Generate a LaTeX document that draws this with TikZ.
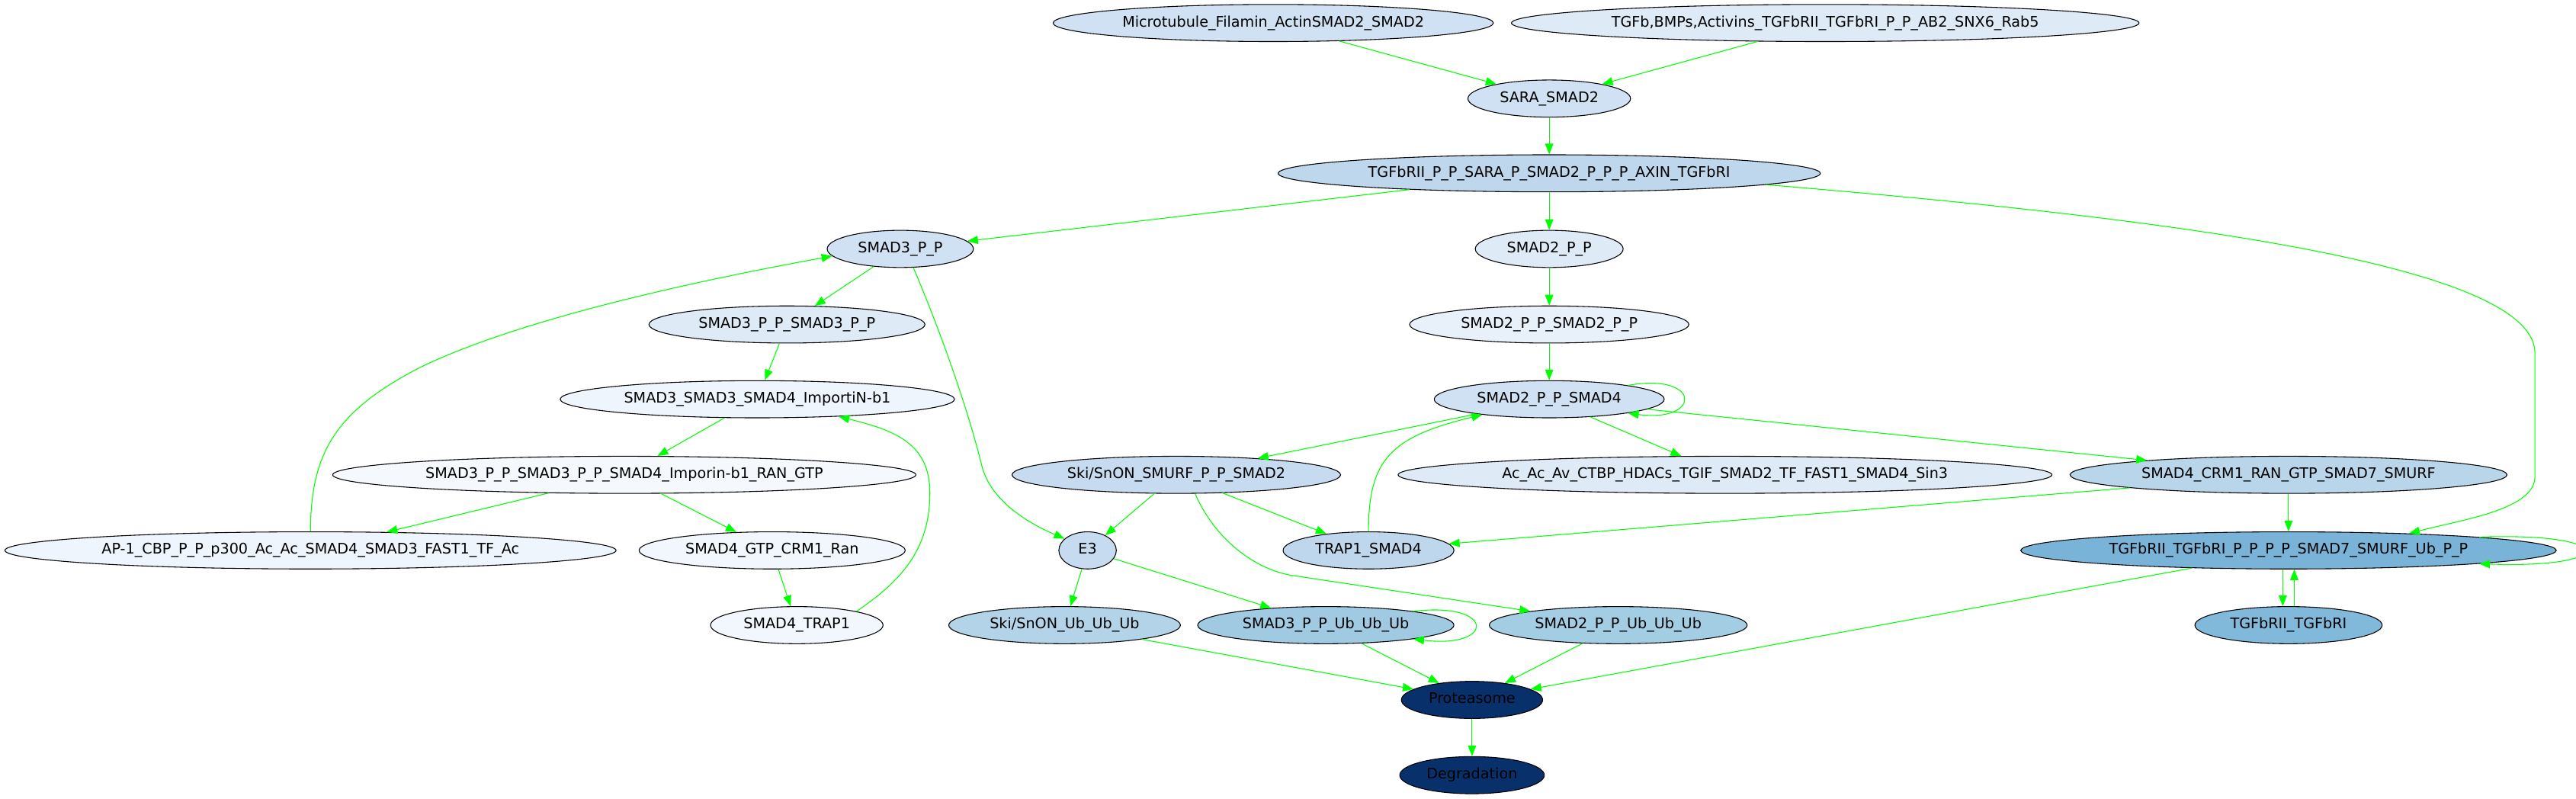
\documentclass[tikz,border=0pt]{standalone}
\usepackage{fontspec}
\setmainfont{DejaVu Sans}
\usetikzlibrary{shapes.geometric,arrows.meta}
\usetikzlibrary{positioning}

\definecolor{edgegreen}{HTML}{00FF00}
\definecolor{cWhite}{HTML}{F5F9FE}
\definecolor{cFaint}{HTML}{EEF5FC}
\definecolor{cFaintB}{HTML}{F2F7FD}
\definecolor{cLight}{HTML}{E8F1FA}
\definecolor{cPale}{HTML}{DEEBF7}
\definecolor{cMid}{HTML}{CFE1F2}
\definecolor{cSki}{HTML}{C6DBEF}
\definecolor{cRec}{HTML}{BED7EC}
\definecolor{cCrm}{HTML}{B9D5EA}
\definecolor{cSkiUb}{HTML}{B2D3E8}
\definecolor{cSTwoUb}{HTML}{A3CDE3}
\definecolor{cSThreeUb}{HTML}{9FCAE1}
\definecolor{cRecTwo}{HTML}{80B9DA}
\definecolor{cUb}{HTML}{79B4D8}
\definecolor{cDark}{HTML}{08306B}

\newcommand{\lab}[1]{\makebox[0pt]{#1}}

\tikzset{
  species/.style={ellipse, draw=black, line width=0.5pt, inner sep=0pt,
    minimum height=22.6pt, text height=6.6pt, text depth=2pt,
    font=\fontsize{8.9}{11}\selectfont},
  flow/.style={draw=edgegreen, line width=0.5pt,
    -{Triangle[length=6.5pt,width=5pt]}}
}

\begin{document}
\begin{tikzpicture}[x=1pt, y=-1pt]
  \useasboundingbox (0,0) rectangle (1568,486);
  % Row 1: inputs
  \node[species, fill=cMid, minimum width=268pt] (mic) at (775,14) {\lab{Microtubule\_Filamin\_ActinSMAD2\_SMAD2}};
  \node[species, fill=cPale, minimum width=382pt] (tgfb) at (1111,14) {\lab{TGFb,BMPs,Activins\_TGFbRII\_TGFbRI\_P\_P\_AB2\_SNX6\_Rab5}};
  % Row 2-3: receptor complex
  \node[species, fill=cMid, minimum width=99pt] (sara) at (943,60) {\lab{SARA\_SMAD2}};
  \node[species, fill=cRec, minimum width=330pt] (rec) at (943,105.5) {\lab{TGFbRII\_P\_P\_SARA\_P\_SMAD2\_P\_P\_P\_AXIN\_TGFbRI}};
  % SMAD3 branch
  \node[species, fill=cMid, minimum width=89pt] (s3pp) at (548,151.5) {\lab{SMAD3\_P\_P}};
  \node[species, fill=cPale, minimum width=168pt] (s3dim) at (479,197.5) {\lab{SMAD3\_P\_P\_SMAD3\_P\_P}};
  \node[species, fill=cFaint, minimum width=240pt] (s3imp) at (461,243) {\lab{SMAD3\_SMAD3\_SMAD4\_ImportiN-b1}};
  \node[species, fill=cWhite, minimum width=355pt] (s3ran) at (380,289) {\lab{SMAD3\_P\_P\_SMAD3\_P\_P\_SMAD4\_Imporin-b1\_RAN\_GTP}};
  \node[species, fill=cFaint, minimum width=372pt] (ap1) at (189,335) {\lab{AP-1\_CBP\_P\_P\_p300\_Ac\_Ac\_SMAD4\_SMAD3\_FAST1\_TF\_Ac}};
  \node[species, fill=cFaintB, minimum width=162pt] (s4gtp) at (470,335) {\lab{SMAD4\_GTP\_CRM1\_Ran}};
  \node[species, fill=cFaintB, minimum width=105pt] (s4trap) at (485,380.5) {\lab{SMAD4\_TRAP1}};
  % SMAD2 branch
  \node[species, fill=cPale, minimum width=90pt] (s2pp) at (943,151.5) {\lab{SMAD2\_P\_P}};
  \node[species, fill=cLight, minimum width=170pt] (s2dim) at (943,197.5) {\lab{SMAD2\_P\_P\_SMAD2\_P\_P}};
  \node[species, fill=cMid, minimum width=140pt] (s2s4) at (943,243) {\lab{SMAD2\_P\_P\_SMAD4}};
  \node[species, fill=cSki, minimum width=200pt] (ski) at (716,289) {\lab{Ski/SnON\_SMURF\_P\_P\_SMAD2}};
  \node[species, fill=cPale, minimum width=398pt] (acac) at (1050,289) {\lab{Ac\_Ac\_Av\_CTBP\_HDACs\_TGIF\_SMAD2\_TF\_FAST1\_SMAD4\_Sin3}};
  \node[species, fill=cCrm, minimum width=266pt] (s4crm) at (1393,289) {\lab{SMAD4\_CRM1\_RAN\_GTP\_SMAD7\_SMURF}};
  \node[species, fill=cSki, minimum width=35pt] (e3) at (662,335) {\lab{E3}};
  \node[species, fill=cRec, minimum width=104pt] (trap1) at (833,335) {\lab{TRAP1\_SMAD4}};
  \node[species, fill=cUb, minimum width=326pt] (ubrec) at (1393,335) {\lab{TGFbRII\_TGFbRI\_P\_P\_P\_P\_SMAD7\_SMURF\_Ub\_P\_P}};
  % Ubiquitinated forms
  \node[species, fill=cSkiUb, minimum width=141pt] (skiub) at (648,380.5) {\lab{Ski/SnON\_Ub\_Ub\_Ub}};
  \node[species, fill=cSThreeUb, minimum width=156pt] (s3ub) at (807,380.5) {\lab{SMAD3\_P\_P\_Ub\_Ub\_Ub}};
  \node[species, fill=cSTwoUb, minimum width=157pt] (s2ub) at (985,380.5) {\lab{SMAD2\_P\_P\_Ub\_Ub\_Ub}};
  \node[species, fill=cRecTwo, minimum width=114pt] (rec2) at (1393,380.5) {\lab{TGFbRII\_TGFbRI}};
  % Degradation
  \node[species, fill=cDark, minimum width=86pt] (prot) at (896,426) {\lab{Proteasome}};
  \node[species, fill=cDark, minimum width=88pt] (degr) at (896,471.8) {\lab{Degradation}};

  % edges: receptor activation
  \draw[flow] (mic) -- (sara);
  \draw[flow] (tgfb) -- (sara);
  \draw[flow] (sara) -- (rec);
  \draw[flow] (rec) -- (s3pp);
  \draw[flow] (rec) -- (s2pp);
  \draw[flow] (rec.-3.7) .. controls (1310,132) and (1543,160) .. (1543,215)
    -- (1543,290) .. controls (1543,310) and (1500,316) .. (ubrec.8.6);
  % edges: SMAD3 branch
  \draw[flow] (s3pp) -- (s3dim);
  \draw[flow] (s3dim) -- (s3imp);
  \draw[flow] (s3imp) -- (s3ran);
  \draw[flow] (s3ran) -- (ap1);
  \draw[flow] (s3ran) -- (s4gtp);
  \draw[flow] (s4gtp) -- (s4trap);
  \draw[flow] (s4trap.13.8) .. controls (548,354) and (566,335) .. (566,300)
    .. controls (566,270) and (545,262) .. (s3imp.-12.2);
  \draw[flow] (ap1.north) .. controls (189,275) and (205,250) .. (255,224)
    .. controls (320,192) and (440,168) .. (s3pp.186.7);
  \draw[flow] (s3pp.-55) .. controls (578,215) and (592,260) .. (598,285)
    .. controls (604,305) and (625,318) .. (e3.153);
  % edges: SMAD2 branch
  \draw[flow] (s2pp) -- (s2dim);
  \draw[flow] (s2dim) -- (s2s4);
  \draw[flow] (s2s4.10) .. controls +(45,-8) and +(45,6) .. (s2s4.-10);
  \draw[flow] (s2s4) -- (ski);
  \draw[flow] (s2s4) -- (acac);
  \draw[flow] (s2s4) -- (s4crm);
  \draw[flow] (trap1.north) .. controls (833,280) and (846,266) .. (s2s4.193.7);
  \draw[flow] (s4crm) -- (trap1);
  \draw[flow] (s4crm) -- (ubrec);
  \draw[flow] (ubrec.4.8) .. controls +(85,-3) and +(85,3) .. (ubrec.-4.8);
  \draw[flow] ([xshift=-3.5pt]ubrec.south) -- ([xshift=-3.5pt]rec2.north);
  \draw[flow] ([xshift=3.5pt]rec2.north) -- ([xshift=3.5pt]ubrec.south);
  % edges: ubiquitination
  \draw[flow] (ski) -- (e3);
  \draw[flow] (ski) -- (trap1);
  \draw[flow] (ski.-45) .. controls (738,325) and (760,345) .. (785,350) -- (s2ub.171.4);
  \draw[flow] (e3) -- (skiub);
  \draw[flow] (e3) -- (s3ub);
  \draw[flow] (s3ub.9.4) .. controls +(50,-6) and +(50,6) .. (s3ub.-9.4);
  % edges: degradation
  \draw[flow] (skiub) -- (prot);
  \draw[flow] (s3ub) -- (prot);
  \draw[flow] (s2ub) -- (prot);
  \draw[flow] (ubrec) -- (prot);
  \draw[flow] (prot) -- (degr);
\end{tikzpicture}
\end{document}
